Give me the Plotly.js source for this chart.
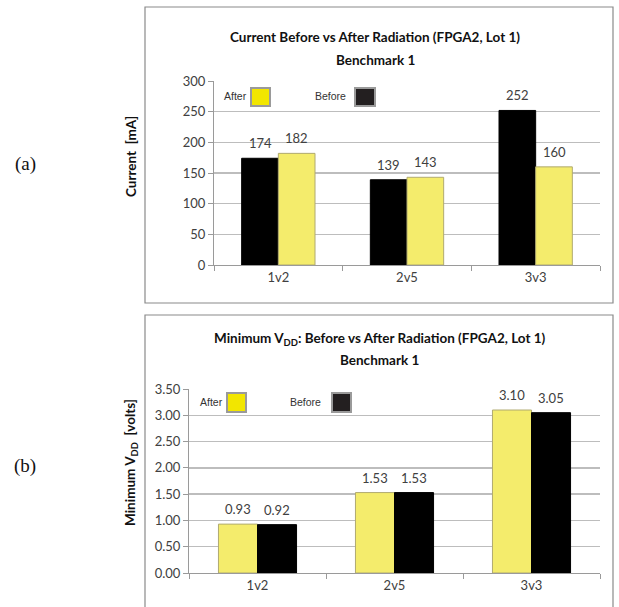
<!DOCTYPE html>
<html><head><meta charset="utf-8">
<script src="https://cdn.plot.ly/plotly-3.0.1.min.js"></script>
<style>html,body{margin:0;padding:0;background:#fff}#chart{width:619px;height:607px}</style>
</head><body><div id="chart"></div>
<script>
// ---- data ----
const categories = ['1v2', '2v5', '3v3'];
const currentBefore = [174, 139, 252];
const currentAfter = [182, 143, 160];
const vddAfter = [0.93, 1.53, 3.10];
const vddBefore = [0.92, 1.53, 3.05];
const currentTicks = [0, 50, 100, 150, 200, 250, 300];
const vddTicks = [0, 0.5, 1.0, 1.5, 2.0, 2.5, 3.0, 3.5];
const currentTitle = ['Current Before vs After Radiation (FPGA2, Lot 1)', 'Benchmark 1'];
const vddTitle = ['Minimum V<sub>DD</sub>: Before vs After Radiation (FPGA2, Lot 1)', 'Benchmark 1'];
const currentYTitle = 'Current  [mA]';
const vddYTitle = 'Minimum V<sub>DD</sub>  [volts]';

// ---- layout helpers ----
const W = 619, H = 607;
const px = v => v / W;
const py = v => 1 - v / H;
const BLACK = '#000000', YELLOW = '#f4ec6c';
const SW_YELLOW = '#f2e600', SW_BLACK = '#231f20';
const FONT = 'Lato, "Open Sans", sans-serif';
const TICKFONT = {family: FONT, size: 13, color: '#404040'};
const halfBar = (1 - 0.43) / 4;

const traces = [
  {type: 'bar', x: categories, y: currentBefore, name: 'Before', xaxis: 'x', yaxis: 'y',
   marker: {color: BLACK, line: {color: '#000', width: 1}}, hoverinfo: 'x+y'},
  {type: 'bar', x: categories, y: currentAfter, name: 'After', xaxis: 'x', yaxis: 'y',
   marker: {color: YELLOW, line: {color: '#b0aa70', width: 1}}, hoverinfo: 'x+y'},
  {type: 'bar', x: categories, y: vddAfter, name: 'After', xaxis: 'x2', yaxis: 'y2',
   marker: {color: YELLOW, line: {color: '#b0aa70', width: 1}}, hoverinfo: 'x+y'},
  {type: 'bar', x: categories, y: vddBefore, name: 'Before', xaxis: 'x2', yaxis: 'y2',
   marker: {color: BLACK, line: {color: '#000', width: 1}}, hoverinfo: 'x+y'}
];

const annotations = [];
function valueLabels(first, second, xref, yref, fmt) {
  first.forEach((v, i) => annotations.push({x: i - halfBar, y: v, xref, yref, text: fmt(v),
    showarrow: false, xanchor: 'center', yanchor: 'bottom', yshift: 5, font: TICKFONT}));
  second.forEach((v, i) => annotations.push({x: i + halfBar, y: v, xref, yref, text: fmt(v),
    showarrow: false, xanchor: 'center', yanchor: 'bottom', yshift: 5, font: TICKFONT}));
}
valueLabels(currentBefore, currentAfter, 'x', 'y', v => String(v));
valueLabels(vddAfter, vddBefore, 'x2', 'y2', v => v.toFixed(2));

function paperText(x, y, text, font, extra) {
  annotations.push(Object.assign({xref: 'paper', yref: 'paper', x: px(x), y: py(y), text,
    showarrow: false, xanchor: 'center', yanchor: 'middle', font}, extra || {}));
}
const TITLEFONT = {family: FONT, size: 13.5, color: '#111', weight: 'bold'};
const YTFONT = {family: FONT, size: 13.5, color: '#111', weight: 'bold'};
// titles
paperText(375, 37, currentTitle[0], TITLEFONT);
paperText(375, 60, currentTitle[1], TITLEFONT);
paperText(380, 339, vddTitle[0], TITLEFONT);
paperText(380, 360, vddTitle[1], TITLEFONT);
// y titles
paperText(131, 157, currentYTitle, YTFONT, {textangle: -90});
paperText(131, 463, vddYTitle, YTFONT, {textangle: -90});
// legend texts
const LEGFONT = {family: 'Liberation Sans, Arial, sans-serif', size: 10.5, color: '#333'};
paperText(222, 96, 'After', LEGFONT, {xanchor: 'left'});
paperText(313, 96, 'Before', LEGFONT, {xanchor: 'left'});
paperText(198, 402, 'After', LEGFONT, {xanchor: 'left'});
paperText(288, 402, 'Before', LEGFONT, {xanchor: 'left'});
// (a) (b)
const SERIF = {family: '"Liberation Serif", "Times New Roman", serif', size: 19, color: '#111'};
paperText(25, 164, '(a)', SERIF);
paperText(25, 466, '(b)', SERIF);

const shapes = [
  {type: 'rect', xref: 'paper', yref: 'paper', x0: px(145), x1: px(613), y0: py(7), y1: py(303),
   line: {color: '#8a8a8a', width: 1.2}},
  {type: 'rect', xref: 'paper', yref: 'paper', x0: px(145), x1: px(613), y0: py(315), y1: py(620),
   line: {color: '#8a8a8a', width: 1.2}},
  {type: 'rect', xref: 'paper', yref: 'paper', x0: px(251), x1: px(270), y0: py(88), y1: py(106),
   fillcolor: SW_YELLOW, line: {color: '#9a9a9a', width: 2}},
  {type: 'rect', xref: 'paper', yref: 'paper', x0: px(355), x1: px(375), y0: py(88), y1: py(106),
   fillcolor: SW_BLACK, line: {color: '#9a9a9a', width: 2}},
  {type: 'rect', xref: 'paper', yref: 'paper', x0: px(227), x1: px(246), y0: py(393), y1: py(412),
   fillcolor: SW_YELLOW, line: {color: '#9a9a9a', width: 2}},
  {type: 'rect', xref: 'paper', yref: 'paper', x0: px(332), x1: px(351), y0: py(393), y1: py(412),
   fillcolor: SW_BLACK, line: {color: '#9a9a9a', width: 2}}
];

const xCommon = {type: 'category', showline: true, linecolor: '#9a9a9a', linewidth: 1,
  ticks: 'outside', tickson: 'boundaries', ticklen: 5, tickcolor: '#9a9a9a',
  showgrid: false, tickfont: TICKFONT, fixedrange: true};
const yCommon = {showline: true, linecolor: '#9a9a9a', linewidth: 1, ticks: 'outside', ticklen: 5,
  tickcolor: '#9a9a9a', showgrid: true, gridcolor: '#bdbdbd', gridwidth: 1.5, zeroline: false,
  tickfont: TICKFONT, fixedrange: true};

const layout = {
  width: W, height: H, margin: {l: 0, r: 0, t: 0, b: 0},
  paper_bgcolor: '#fff', plot_bgcolor: '#fff', showlegend: false,
  barmode: 'group', bargap: 0.43, bargroupgap: 0,
  xaxis: Object.assign({}, xCommon, {domain: [px(214), px(600)], anchor: 'y'}),
  yaxis: Object.assign({}, yCommon, {domain: [py(265), py(81)], anchor: 'x', range: [0, 300],
    tickvals: currentTicks, ticktext: currentTicks.map(String)}),
  xaxis2: Object.assign({}, xCommon, {domain: [px(189), px(600)], anchor: 'y2'}),
  yaxis2: Object.assign({}, yCommon, {domain: [py(573), py(389)], anchor: 'x2', range: [0, 3.5],
    tickvals: vddTicks, ticktext: vddTicks.map(v => v.toFixed(2))}),
  annotations, shapes
};

Plotly.newPlot('chart', traces, layout, {displayModeBar: false, staticPlot: true});
</script></body></html>
